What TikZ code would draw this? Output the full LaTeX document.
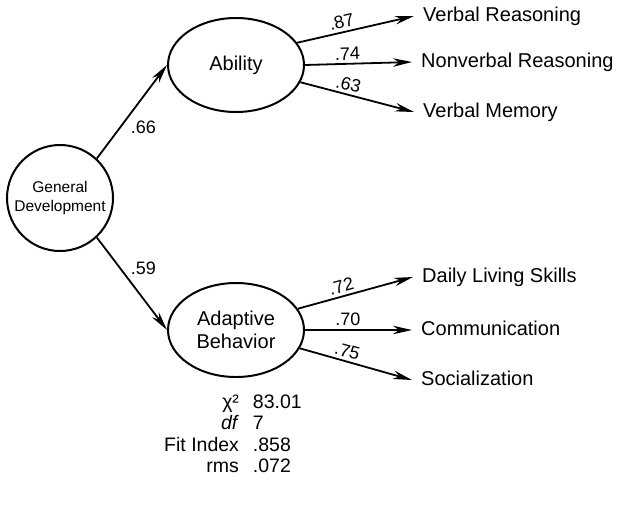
\documentclass[tikz,border=0pt]{standalone}
\usepackage{fontspec}
\setmainfont{Liberation Sans}
\usetikzlibrary{arrows.meta,shapes.geometric}
\begin{document}
\begin{tikzpicture}[x=1pt,y=-1pt,
  lat/.style={draw, ellipse, line width=2pt, minimum width=136pt, minimum height=94pt,
    align=center, inner sep=0pt, font=\fontsize{20}{23}\selectfont},
  gen/.style={draw, circle, line width=2pt, minimum size=106pt, align=center,
    inner sep=0pt, font=\fontsize{15.5}{19}\selectfont},
  obs/.style={anchor=west, inner xsep=9pt, inner ysep=0pt, text height=14pt, text depth=4pt,
    font=\fontsize{20}{22}\selectfont},
  pathar/.style={line width=1.8pt, -{Stealth[length=19pt,width=8.5pt,inset=6pt]}},
  coef/.style={font=\fontsize{18}{20}\selectfont, sloped, above, inner sep=3pt},
  coefr/.style={font=\fontsize{18}{20}\selectfont, right, inner sep=2pt}
]
\useasboundingbox (0,0) rectangle (617,507);

\node[gen] (gd) at (60,198) {General\\Development};
\node[lat] (ab) at (236,65) {Ability};
\node[lat] (ad) at (236,330) {Adaptive\\Behavior};

\node[obs] (vr) at (414,16) {Verbal Reasoning};
\node[obs] (nr) at (412,62) {Nonverbal Reasoning};
\node[obs] (vm) at (414,112) {Verbal Memory};
\node[obs] (dl) at (413,277) {Daily Living Skills};
\node[obs] (co) at (412,330) {Communication};
\node[obs] (so) at (412,380) {Socialization};

\draw[pathar] (gd.47) -- (ab.west) node[coefr, pos=0.33, xshift=8pt] {.66};
\draw[pathar] (gd.-47) -- (ad.west) node[coefr, pos=0.33, xshift=8pt] {.59};

\draw[pathar] (ab.20) -- (vr.west) node[coef, pos=0.4] {.87};
\draw[pathar] (ab.east) -- (nr.west) node[coef, pos=0.4] {.74};
\draw[pathar] (ab.-15) -- (vm.west) node[coef, pos=0.4] {.63};

\draw[pathar] (ad.19) -- (dl.west) node[coef, pos=0.4] {.72};
\draw[pathar] (ad.east) -- (co.west) node[coef, pos=0.4] {.70};
\draw[pathar] (ad.-16) -- (so.west) node[coef, pos=0.4] {.75};

\node[anchor=north west, inner sep=0pt, font=\fontsize{19.5}{21.5}\selectfont] (stats) at (164,393)
  {\begin{tabular}{@{}r@{\hspace{14pt}}l@{}}
   χ² & 83.01\\
   \textit{df} & 7\\
   Fit Index & .858\\
   rms & .072
   \end{tabular}};
\end{tikzpicture}
\end{document}
